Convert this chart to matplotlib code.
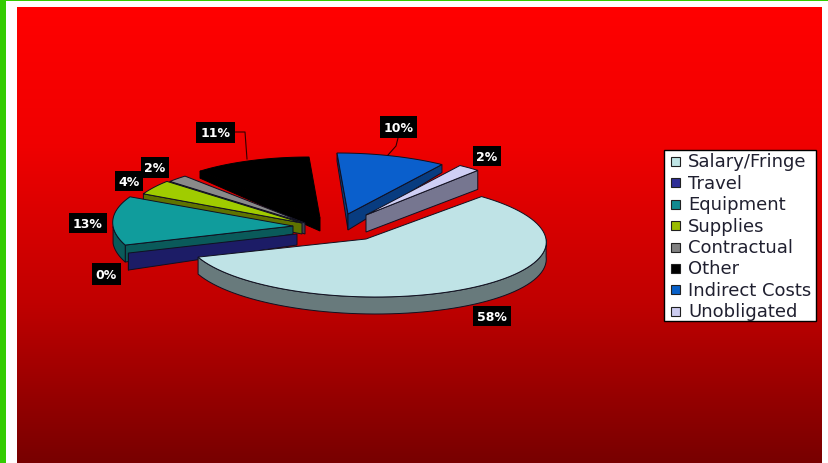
import numpy as np
import matplotlib
matplotlib.use("Agg")
import matplotlib.pyplot as plt
from matplotlib.colors import LinearSegmentedColormap
from matplotlib.patches import Polygon, Rectangle

categories = ["Salary/Fringe", "Travel", "Equipment", "Supplies", "Contractual", "Other", "Indirect Costs", "Unobligated"]
values = [58, 0, 13, 4, 2, 11, 10, 2]
labels = ["58%", "0%", "13%", "4%", "2%", "11%", "10%", "2%"]

top_colors = ["#BFE3E6", "#1C1C66", "#109C9C", "#A0CC00", "#8A8A8A", "#000000", "#0A5FCC", "#CFCFF5"]
legend_colors = ["#BFE5E5", "#2E2E96", "#108A90", "#99BB00", "#808080", "#000000", "#0860C8", "#CCCCF0"]
side_colors = ["#687A7C", "#1C1C66", "#0A5A5A", "#5F7300", "#404050", "#000000", "#083C80", "#767690"]
edge_colors = ["#101020", "#101020", "#101020", "#101020", "#101020", "#000000", "#101020", "#101020"]

# layout in pixels
W, H = 829, 464
SHEAR = 0.17
START = 47.0
apex = [(366, 240), (297, 235), (293, 227), (302, 224), (305, 224), (320, 219), (348, 215), (366, 216)]
scale = [(180, 58), (181, 61), (180, 61), (175, 61), (175, 61), (175, 61), (175, 61), (175, 61)]
apex_depth = [17, 11, 8, 11, 11, 13, 16, 17]
rim_depth = [17, 17, 17, 10, 10, 7, 8, 19]
label_boxes = [(473, 307, 511, 327), (92, 264, 121, 286), (69, 214, 107, 234), (115, 172, 143, 192),
               (141, 158, 169, 179), (196, 123, 235, 144), (380, 117, 417, 139), (473, 147, 501, 167)]

fig = plt.figure(figsize=(8.29, 4.64), dpi=100)
ax = fig.add_axes([0, 0, 1, 1])
ax.axis("off")

# page frame and gradient
ax.add_patch(Rectangle((0, 0), W, H, fc="white", ec="none", zorder=0))
ax.add_patch(Rectangle((0, 0), 6, H, fc="#33CC00", ec="none", zorder=1))
ax.add_patch(Rectangle((0, 0), W, 1.5, fc="#33CC00", ec="none", zorder=1))
cmap = LinearSegmentedColormap.from_list("bg", [(0, "#FF0000"), (0.3, "#F00000"), (0.65, "#C00000"), (1, "#780000")])
ax.imshow(np.linspace(0, 1, 256).reshape(-1, 1), cmap=cmap, extent=(17, 822, H, 8), aspect="auto", zorder=1)
ax.set_xlim(0, W)
ax.set_ylim(H, 0)


def arc(i, a0, a1, n=80):
    cx, cy = apex[i]
    rx, ry = scale[i]
    t = np.radians(np.linspace(a0, a1, n))
    y = -ry * np.sin(t)
    return np.column_stack([cx + rx * np.cos(t) + SHEAR * y, cy + y]), t


# wedges run clockwise from START
angles = []
a = START
for v in values:
    angles.append((a, a - v * 3.6))
    a -= v * 3.6

order = [5, 4, 3, 6, 7, 2, 1, 0]
for z, i in enumerate(order):
    a0, a1 = angles[i]
    cx, cy = apex[i]
    d0, d1 = apex_depth[i], rim_depth[i]
    zb = 5 + z
    ec = edge_colors[i]
    pts, t = arc(i, a0, a1)
    # cut faces that turn towards the viewer
    if np.cos(np.radians(a0)) < 0:
        e = pts[0]
        ax.add_patch(Polygon([(cx, cy), e, e + (0, d1), (cx, cy + d0)], fc=side_colors[i], ec=ec, lw=0.7, zorder=zb))
    if np.cos(np.radians(a1)) > 0:
        e = pts[-1]
        ax.add_patch(Polygon([(cx, cy), e, e + (0, d1), (cx, cy + d0)], fc=side_colors[i], ec=ec, lw=0.7, zorder=zb))
    # outer wall, front half only
    front = np.sin(t) < 0
    if front.sum() > 1:
        p = pts[front]
        ax.add_patch(Polygon(np.vstack([p, (p + (0, d1))[::-1]]), fc=side_colors[i], ec=ec, lw=0.7, zorder=zb))
    if values[i] > 0:
        ax.add_patch(Polygon(np.vstack([[(cx, cy)], pts]), fc=top_colors[i], ec=ec, lw=0.7, zorder=zb + 0.5))

# leaders
ax.plot([235, 245, 247], [133, 133, 160], color="#300000", lw=0.8, zorder=30)
ax.plot([398, 396, 388], [139, 147, 156], color="#300000", lw=0.8, zorder=30)

# data labels
for (x0, y0, x1, y1), s in zip(label_boxes, labels):
    ax.add_patch(Rectangle((x0, y0), x1 - x0, y1 - y0, fc="black", ec="none", zorder=31))
    ax.text((x0 + x1) / 2, (y0 + y1) / 2 + 0.5, s, color="white", fontsize=9, fontweight="bold",
            family="DejaVu Sans", ha="center", va="center", zorder=32)

# legend
ax.add_patch(Rectangle((664, 151), 152, 171, fc="white", ec="black", lw=1, zorder=20))
for k, (name, col) in enumerate(zip(categories, legend_colors)):
    y = 162.5 + k * 21.4
    ax.add_patch(Rectangle((671, y - 4.5), 9, 9, fc=col, ec="#202020", lw=0.8, zorder=21))
    ax.text(688, y, name, color="#202030", fontsize=13, family="DejaVu Sans", ha="left", va="center", zorder=21)

fig.savefig("out.png", dpi=100)
